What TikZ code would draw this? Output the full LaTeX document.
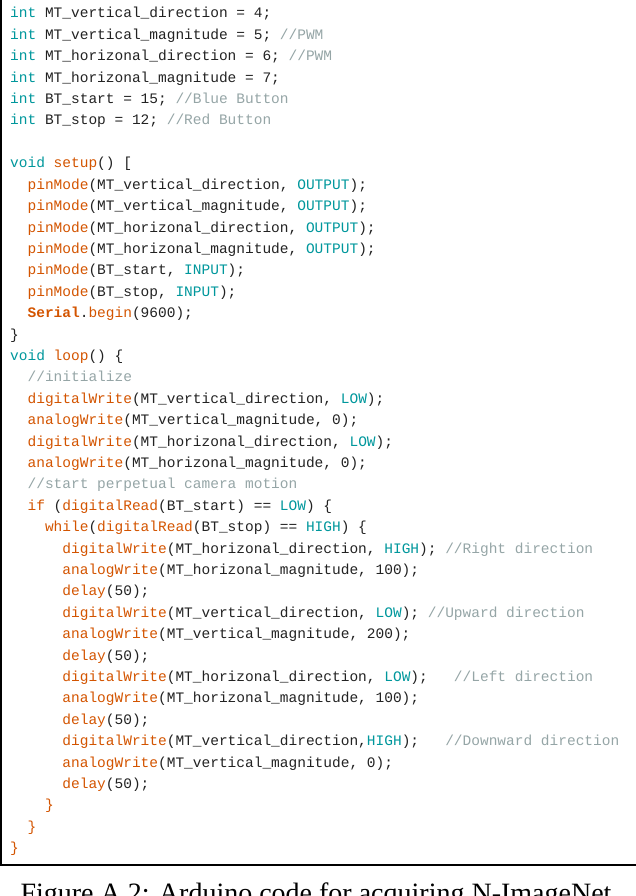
\documentclass[tikz,border=0pt]{standalone}
\usepackage{fontspec}
\setmonofont{Liberation Mono}
\newfontfamily\capfont{Liberation Serif}
\definecolor{kwT}{HTML}{00979C}
\definecolor{kwO}{HTML}{D35400}
\definecolor{cmG}{HTML}{95A5A6}
\definecolor{txD}{HTML}{222222}
\newcommand{\Tt}[1]{\textcolor{kwT}{#1}}
\newcommand{\Or}[1]{\textcolor{kwO}{#1}}
\newcommand{\Cm}[1]{\textcolor{cmG}{#1}}
\begin{document}
\begin{tikzpicture}[x=1pt,y=-1pt,
  codeline/.style={anchor=base west,inner sep=0pt,font=\fontsize{14.5}{16}\ttfamily,text=txD}]
\useasboundingbox (0,0) rectangle (636,896);
\draw[line width=1.3pt] (1,-20) -- (1,865) -- (660,865);
\def\ly#1{18+(#1-1)*21.4}
\def\cx#1{10+#1*8.7}
\node[codeline] (l1) at (\cx{0},{\ly{1}}) {\Tt{int} MT\_vertical\_direction = 4;};
\node[codeline] (l2) at (\cx{0},{\ly{2}}) {\Tt{int} MT\_vertical\_magnitude = 5; \Cm{//PWM}};
\node[codeline] (l3) at (\cx{0},{\ly{3}}) {\Tt{int} MT\_horizonal\_direction = 6; \Cm{//PWM}};
\node[codeline] (l4) at (\cx{0},{\ly{4}}) {\Tt{int} MT\_horizonal\_magnitude = 7;};
\node[codeline] (l5) at (\cx{0},{\ly{5}}) {\Tt{int} BT\_start = 15; \Cm{//Blue Button}};
\node[codeline] (l6) at (\cx{0},{\ly{6}}) {\Tt{int} BT\_stop = 12; \Cm{//Red Button}};
\node[codeline] (l8) at (\cx{0},{\ly{8}}) {\Tt{void} \Or{setup}() [};
\node[codeline] (l9) at (\cx{2},{\ly{9}}) {\Or{pinMode}(MT\_vertical\_direction, \Tt{OUTPUT});};
\node[codeline] (l10) at (\cx{2},{\ly{10}}) {\Or{pinMode}(MT\_vertical\_magnitude, \Tt{OUTPUT});};
\node[codeline] (l11) at (\cx{2},{\ly{11}}) {\Or{pinMode}(MT\_horizonal\_direction, \Tt{OUTPUT});};
\node[codeline] (l12) at (\cx{2},{\ly{12}}) {\Or{pinMode}(MT\_horizonal\_magnitude, \Tt{OUTPUT});};
\node[codeline] (l13) at (\cx{2},{\ly{13}}) {\Or{pinMode}(BT\_start, \Tt{INPUT});};
\node[codeline] (l14) at (\cx{2},{\ly{14}}) {\Or{pinMode}(BT\_stop, \Tt{INPUT});};
\node[codeline] (l15) at (\cx{2},{\ly{15}}) {\Or{\bfseries Serial}.\Or{begin}(9600);};
\node[codeline] (l16) at (\cx{0},{\ly{16}}) {\}};
\node[codeline] (l17) at (\cx{0},{\ly{17}}) {\Tt{void} \Or{loop}() \{};
\node[codeline] (l18) at (\cx{2},{\ly{18}}) {\Cm{//initialize}};
\node[codeline] (l19) at (\cx{2},{\ly{19}}) {\Or{digitalWrite}(MT\_vertical\_direction, \Tt{LOW});};
\node[codeline] (l20) at (\cx{2},{\ly{20}}) {\Or{analogWrite}(MT\_vertical\_magnitude, 0);};
\node[codeline] (l21) at (\cx{2},{\ly{21}}) {\Or{digitalWrite}(MT\_horizonal\_direction, \Tt{LOW});};
\node[codeline] (l22) at (\cx{2},{\ly{22}}) {\Or{analogWrite}(MT\_horizonal\_magnitude, 0);};
\node[codeline] (l23) at (\cx{2},{\ly{23}}) {\Cm{//start perpetual camera motion}};
\node[codeline] (l24) at (\cx{2},{\ly{24}}) {\Or{if} (\Or{digitalRead}(BT\_start) == \Tt{LOW}) \{};
\node[codeline] (l25) at (\cx{4},{\ly{25}}) {\Or{while}(\Or{digitalRead}(BT\_stop) == \Tt{HIGH}) \{};
\node[codeline] (l26) at (\cx{6},{\ly{26}}) {\Or{digitalWrite}(MT\_horizonal\_direction, \Tt{HIGH}); \Cm{//Right direction}};
\node[codeline] (l27) at (\cx{6},{\ly{27}}) {\Or{analogWrite}(MT\_horizonal\_magnitude, 100);};
\node[codeline] (l28) at (\cx{6},{\ly{28}}) {\Or{delay}(50);};
\node[codeline] (l29) at (\cx{6},{\ly{29}}) {\Or{digitalWrite}(MT\_vertical\_direction, \Tt{LOW}); \Cm{//Upward direction}};
\node[codeline] (l30) at (\cx{6},{\ly{30}}) {\Or{analogWrite}(MT\_vertical\_magnitude, 200);};
\node[codeline] (l31) at (\cx{6},{\ly{31}}) {\Or{delay}(50);};
\node[codeline] (l32) at (\cx{6},{\ly{32}}) {\Or{digitalWrite}(MT\_horizonal\_direction, \Tt{LOW});\ \ \ \Cm{//Left direction}};
\node[codeline] (l33) at (\cx{6},{\ly{33}}) {\Or{analogWrite}(MT\_horizonal\_magnitude, 100);};
\node[codeline] (l34) at (\cx{6},{\ly{34}}) {\Or{delay}(50);};
\node[codeline] (l35) at (\cx{6},{\ly{35}}) {\Or{digitalWrite}(MT\_vertical\_direction,\Tt{HIGH});\ \ \ \Cm{//Downward direction}};
\node[codeline] (l36) at (\cx{6},{\ly{36}}) {\Or{analogWrite}(MT\_vertical\_magnitude, 0);};
\node[codeline] (l37) at (\cx{6},{\ly{37}}) {\Or{delay}(50);};
\node[codeline] (l38) at (\cx{4},{\ly{38}}) {\Or{\}}};
\node[codeline] (l39) at (\cx{2},{\ly{39}}) {\Or{\}}};
\node[codeline] (l40) at (\cx{0},{\ly{40}}) {\Or{\}}};
\node[anchor=base,inner sep=0pt,font=\capfont\fontsize{28}{32}\selectfont] (cap) at (316,902) {Figure A.2: Arduino code for acquiring N-ImageNet};
\end{tikzpicture}
\end{document}
